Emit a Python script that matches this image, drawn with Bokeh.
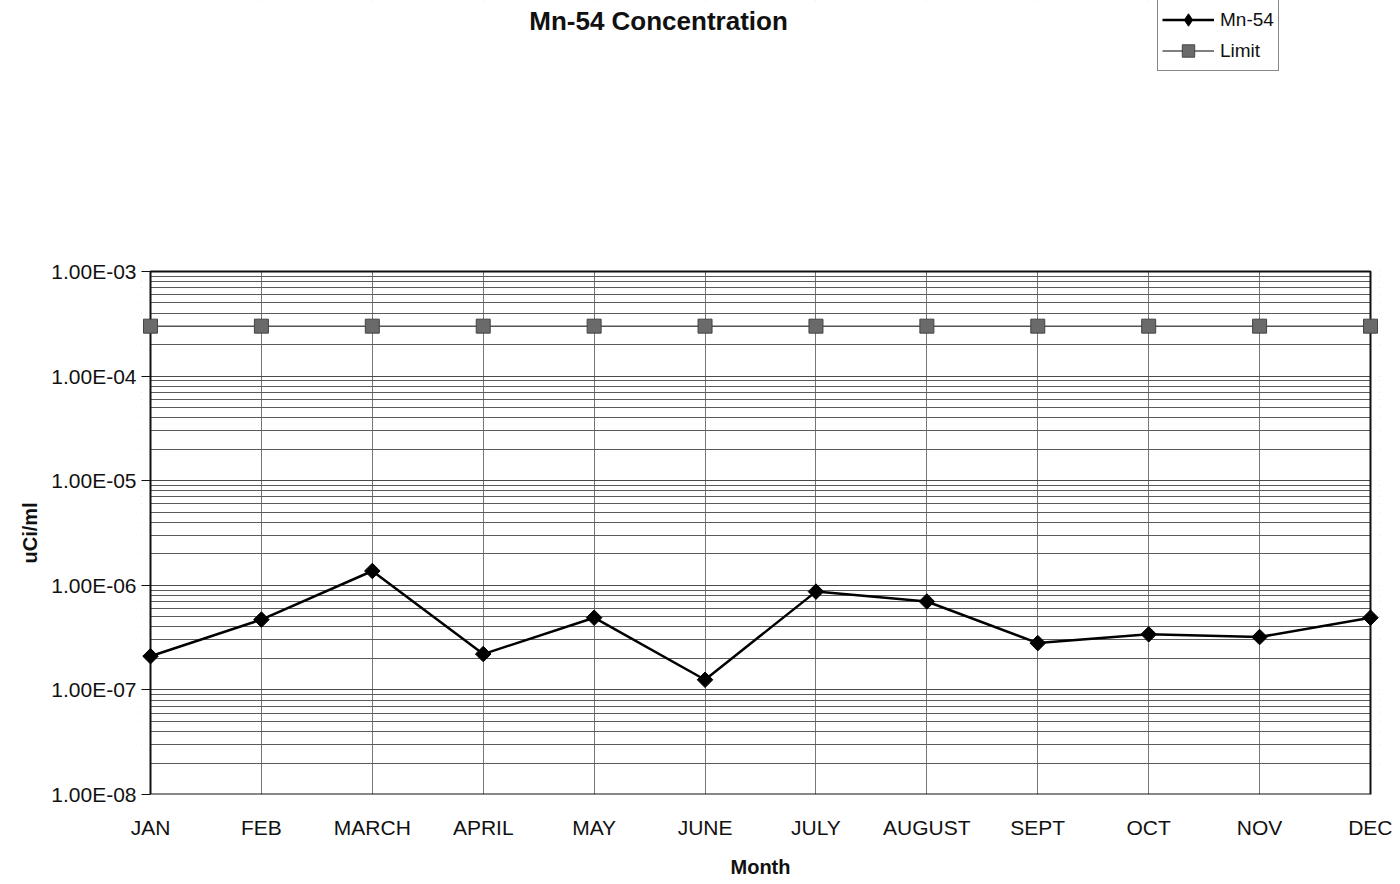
import numpy as np
from bokeh.plotting import figure
from bokeh.models import (FixedTicker, CustomJSTickFormatter, Legend, LegendItem,
                          Range1d, ColumnDataSource, BoxAnnotation, Label, Title)
from bokeh.embed import file_html
from bokeh.resources import INLINE

# ---- data ----
months = ["JAN", "FEB", "MARCH", "APRIL", "MAY", "JUNE", "JULY", "AUGUST",
          "SEPT", "OCT", "NOV", "DEC"]
mn54 = [2.1e-7, 4.7e-7, 1.37e-6, 2.2e-7, 4.9e-7, 1.25e-7,
        8.7e-7, 7.0e-7, 2.8e-7, 3.4e-7, 3.2e-7, 4.9e-7]
limit = [3.0e-4] * 12
y_ticks = [1e-8, 1e-7, 1e-6, 1e-5, 1e-4, 1e-3]
title_text = "Mn-54 Concentration"
x_label = "Month"
y_label = "uCi/ml"

FONT = "Liberation Sans"
xs = list(range(len(months)))
src = ColumnDataSource(dict(x=xs, mn54=mn54, limit=limit))
x_last = len(months) - 1

# layout geometry (pixels)
FRAME_L, FRAME_R, AXIS_TOP, FRAME_B = 141, 1379, 272, 797
PX_PER_X = 1220 / x_last          # JAN..DEC span 150..1370
PX_PER_DEC = (FRAME_B - AXIS_TOP) / (len(y_ticks) - 1)
PAD = 9 / PX_PER_X                # keeps edge markers unclipped
y_top = 10 ** (np.log10(y_ticks[-1]) + AXIS_TOP / PX_PER_DEC)  # frame reaches canvas top

p = figure(width=1392, height=880, y_axis_type="log", title=None,
           x_range=Range1d(-PAD, x_last + PAD), y_range=Range1d(y_ticks[0], y_top),
           output_backend="svg", toolbar_location=None,
           min_border_left=FRAME_L, min_border_right=1392 - FRAME_R, min_border_top=0,
           min_border_bottom=880 - FRAME_B)
p.background_fill_color = "white"
p.border_fill_color = "white"
p.outline_line_color = None

# axes
minor = [k * t for t in y_ticks[:-1] for k in range(2, 10)]
yt = FixedTicker(ticks=y_ticks, minor_ticks=minor)
p.yaxis.ticker = yt
p.ygrid.ticker = yt
p.yaxis.formatter = CustomJSTickFormatter(code="""
const s = tick.toExponential(2).toUpperCase();
return s.replace(/E([+-])(\\d)$/, (m, a, b) => 'E' + a + '0' + b);
""")
p.yaxis.major_label_text_font = FONT
p.yaxis.major_label_text_font_size = "21px"
p.yaxis.major_label_text_color = "#111111"
p.yaxis.major_tick_out = 0
p.yaxis.major_tick_in = 9
p.yaxis.major_tick_line_color = "#111111"
p.yaxis.minor_tick_line_color = None
p.yaxis.major_label_standoff = 1
p.yaxis.axis_line_color = None

ytitle = Title(text=y_label, align="left", offset=231, text_font=FONT,
               text_font_style="bold", text_font_size="20px", text_color="#111111",
               standoff=16)
p.add_layout(ytitle, "left")

xt = FixedTicker(ticks=xs)
p.xaxis.ticker = xt
p.xgrid.ticker = xt
p.xaxis.major_label_overrides = {i: m for i, m in enumerate(months)}
p.xaxis.major_label_text_font = FONT
p.xaxis.major_label_text_font_size = "21px"
p.xaxis.major_label_text_color = "#111111"
p.xaxis.major_tick_line_color = None
p.xaxis.major_tick_out = 0
p.xaxis.major_tick_in = 0
p.xaxis.minor_tick_line_color = None
p.xaxis.major_label_standoff = 21
p.xaxis.axis_line_color = None
p.xaxis.axis_label = x_label
p.xaxis.axis_label_text_font = FONT
p.xaxis.axis_label_text_font_style = "bold"
p.xaxis.axis_label_text_font_size = "20px"
p.xaxis.axis_label_text_color = "#111111"
p.xaxis.axis_label_standoff = 14

# grids
p.ygrid.grid_line_color = "#4a4a4a"
p.ygrid.grid_line_width = 1
p.ygrid.minor_grid_line_color = "#5a5a5a"
p.ygrid.minor_grid_line_width = 1
p.xgrid.grid_line_color = "#777777"
p.xgrid.grid_line_width = 1

# white cover outside the chart box, and the plot-area border
far_y = y_top * 1e3
for kw in (dict(left=-1, right=0, bottom=y_ticks[0] / 10, top=far_y),
           dict(left=x_last, right=x_last + 1, bottom=y_ticks[0] / 10, top=far_y),
           dict(left=-1, right=x_last + 1, bottom=y_ticks[-1], top=far_y)):
    p.add_layout(BoxAnnotation(fill_color="white", fill_alpha=1, line_color=None,
                               level="underlay", **kw))
p.add_layout(BoxAnnotation(left=0, right=x_last, bottom=y_ticks[0], top=y_ticks[-1],
                           fill_alpha=0, line_color="#111111", line_alpha=1,
                           line_width=2, level="underlay"))

# series
l1 = p.line("x", "mn54", source=src, line_color="black", line_width=2.5)
m1 = p.scatter("x", "mn54", source=src, marker="square", angle=np.pi / 4, size=11,
               fill_color="black", line_color="black")
l2 = p.line("x", "limit", source=src, line_color="#555555", line_width=1.5)
m2 = p.scatter("x", "limit", source=src, marker="square", size=14,
               fill_color="#6a6a6a", line_color="#444444")
# legend-only diamond swatch (a single undrawable NaN point)
leg_d = p.scatter(x=[np.nan], y=[np.nan], marker="diamond",
                  fill_color="black", line_color="black")

legend = Legend(items=[LegendItem(label="Mn-54", renderers=[l1, leg_d]),
                       LegendItem(label="Limit", renderers=[l2, m2])],
                location=(1157 - FRAME_L, FRAME_B - 74), margin=0, padding=4, spacing=0,
                glyph_width=52, glyph_height=31, label_standoff=6,
                label_text_font=FONT, label_text_font_size="19px",
                label_text_color="#111111",
                border_line_color="#111111", border_line_width=1,
                background_fill_color="white", background_fill_alpha=1)
p.add_layout(legend, "center")

# chart title, placed in the white area above the chart box
title = Label(x=(658 - 150) / PX_PER_X, y=10 ** (np.log10(y_ticks[-1]) + (AXIS_TOP - 21) / PX_PER_DEC),
              text=title_text, text_font=FONT, text_font_style="bold",
              text_font_size="26px", text_align="center", text_baseline="alphabetic",
              text_color="#111111")
p.add_layout(title)

open("out.html", "w").write(file_html(p, INLINE))
